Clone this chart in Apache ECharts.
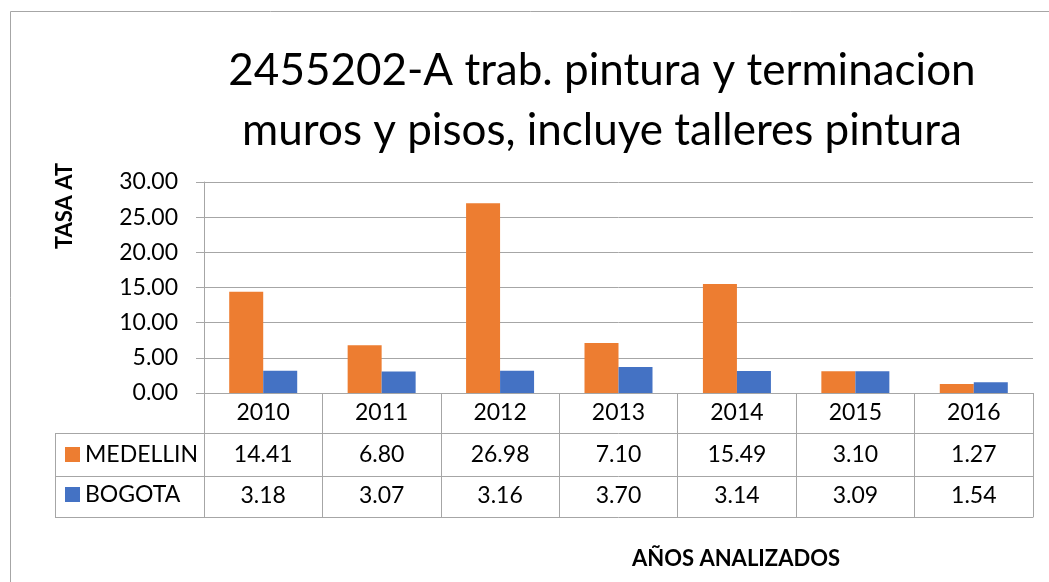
<!DOCTYPE html>
<html>
<head>
<meta charset="utf-8">
<script src="https://cdn.jsdelivr.net/npm/echarts@6/dist/echarts.min.js"></script>
<style>html,body{margin:0;padding:0;background:#fff;}#c{width:1049px;height:582px;}</style>
</head>
<body>
<div id="c"></div>
<script>
const categories = ['2010', '2011', '2012', '2013', '2014', '2015', '2016'];
const medellin = [14.41, 6.80, 26.98, 7.10, 15.49, 3.10, 1.27];
const bogota = [3.18, 3.07, 3.16, 3.70, 3.14, 3.09, 1.54];
const seriesNames = ['MEDELLIN', 'BOGOTA'];
const yTicks = { min: 0, max: 30, interval: 5 };
const titleText = '2455202-A trab. pintura y terminacion\nmuros y pisos, incluye talleres pintura';
const xTitle = 'AÑOS ANALIZADOS';
const yTitle = 'TASA AT';

const FONT = 'Lato';
const GRAY = '#a6a6a6';
const LBL = 23;
const chart = echarts.init(document.getElementById('c'), null, { renderer: 'canvas' });

function tableAxis(offset, rows, showLabel, margin) {
  return {
    type: 'category', data: categories, position: 'bottom', offset: offset, gridIndex: 0,
    axisLine: { show: true, lineStyle: { color: GRAY, width: 1 } },
    axisTick: { show: rows > 0, length: rows, interval: 0, alignWithLabel: false, lineStyle: { color: GRAY, width: 1 } },
    axisLabel: { show: !!showLabel, interval: 0, margin: margin || 21, verticalAlign: 'middle', fontFamily: FONT, fontSize: LBL, color: '#000', formatter: showLabel || '{value}' },
    splitLine: { show: false }
  };
}

chart.setOption({
  animation: false,
  backgroundColor: '#fff',
  textStyle: { fontFamily: FONT },
  title: [
    { text: titleText, left: 597, top: 36, textAlign: 'center',
      textStyle: { fontFamily: FONT, fontSize: 44, fontWeight: 'normal', color: '#000', lineHeight: 60 } },
    { text: xTitle, left: 731, top: 543, textAlign: 'center',
      textStyle: { fontFamily: FONT, fontSize: 22, fontWeight: 'bold', color: '#000' } }
  ],
  legend: {
    orient: 'vertical', left: 65, top: 443, padding: 0, itemWidth: 15, itemHeight: 15, itemGap: 17,
    icon: 'rect', data: seriesNames, selectedMode: false,
    textStyle: { fontFamily: FONT, fontSize: LBL, color: '#000' }
  },
  grid: { left: 204, right: 16, top: 182, bottom: 189, containLabel: false },
  xAxis: [
    tableAxis(0, 40, function (v) { return v; }, 20),
    tableAxis(40, 43, function (v, i) { return medellin[i].toFixed(2); }, 22),
    tableAxis(83, 41, function (v, i) { return bogota[i].toFixed(2); }, 20),
    tableAxis(124, 0, null)
  ],
  yAxis: {
    type: 'value', min: yTicks.min, max: yTicks.max, interval: yTicks.interval,
    axisLine: { show: true, lineStyle: { color: GRAY, width: 1 } },
    axisTick: { show: true, length: 8, lineStyle: { color: GRAY, width: 1 } },
    axisLabel: { margin: 26, fontFamily: FONT, fontSize: LBL, color: '#000', formatter: function (v) { return v.toFixed(2); } },
    splitLine: { show: true, lineStyle: { color: GRAY, width: 1 } }
  },
  series: [
    { name: seriesNames[0], type: 'bar', xAxisIndex: 0, data: medellin, barWidth: 34, barGap: '0%', itemStyle: { color: '#ED7D31' } },
    { name: seriesNames[1], type: 'bar', xAxisIndex: 0, data: bogota, barWidth: 34, barGap: '0%', itemStyle: { color: '#4472C4' } }
  ],
  graphic: [
    { type: 'polyline', shape: { points: [[10.5, 600], [10.5, 11.5], [1060, 11.5]] }, style: { stroke: GRAY, lineWidth: 1, fill: null }, silent: true },
    { type: 'line', shape: { x1: 55, y1: 433.5, x2: 204, y2: 433.5 }, style: { stroke: GRAY, lineWidth: 1 }, silent: true },
    { type: 'line', shape: { x1: 55, y1: 476.5, x2: 204, y2: 476.5 }, style: { stroke: GRAY, lineWidth: 1 }, silent: true },
    { type: 'line', shape: { x1: 55, y1: 517.5, x2: 204, y2: 517.5 }, style: { stroke: GRAY, lineWidth: 1 }, silent: true },
    { type: 'line', shape: { x1: 55.5, y1: 433, x2: 55.5, y2: 518 }, style: { stroke: GRAY, lineWidth: 1 }, silent: true },
    { type: 'text', x: 65, y: 206, rotation: Math.PI / 2,
      style: { text: yTitle, font: 'bold 22px ' + FONT, fill: '#000', align: 'center', verticalAlign: 'middle' }, silent: true }
  ]
});
</script>
</body>
</html>
